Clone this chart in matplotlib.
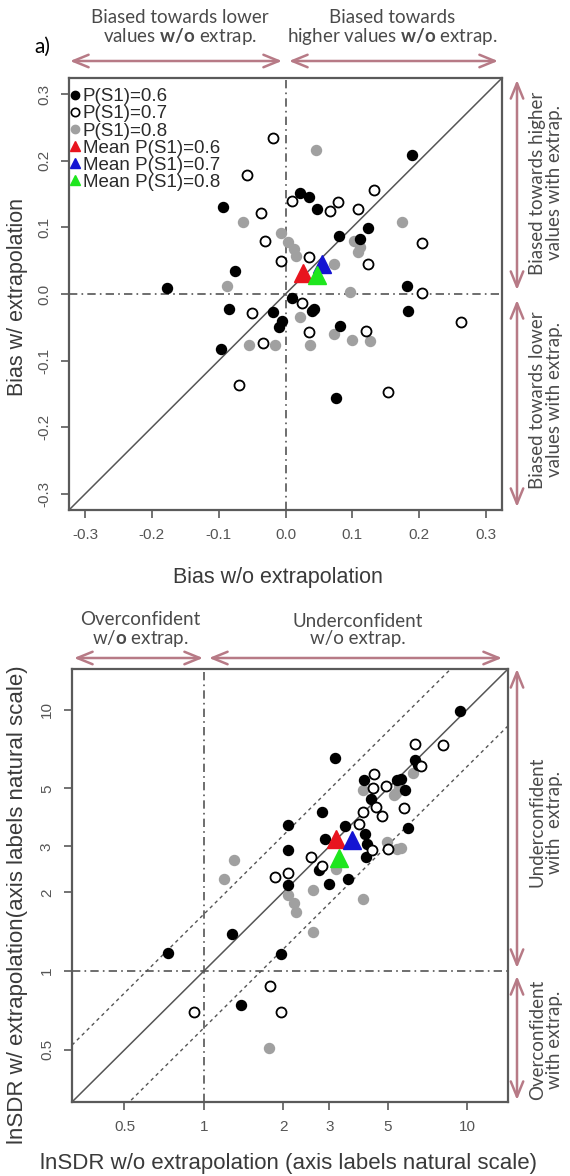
import matplotlib
matplotlib.use('Agg')
import matplotlib.pyplot as plt
from matplotlib.lines import Line2D
from matplotlib.patches import FancyArrowPatch
from matplotlib.ticker import FixedLocator, FixedFormatter, NullLocator

plt.rcParams['font.family'] = ['Liberation Sans', 'DejaVu Sans']
plt.rcParams['mathtext.fontset'] = 'custom'
plt.rcParams['mathtext.rm'] = 'Lato'
plt.rcParams['mathtext.bf'] = 'Lato:bold'

# ---------------- data: top panel (bias) ----------------
bias_wo_06 = [-0.178, -0.093, -0.075, -0.084, -0.096, -0.018, -0.005, -0.010, 0.010, 0.022, 0.035,
              0.047, 0.080, 0.123, 0.112, 0.190, 0.182, 0.184, 0.040, 0.043, 0.082, 0.076]
bias_w_06 = [0.009, 0.130, 0.034, -0.022, -0.082, -0.027, -0.040, -0.050, -0.006, 0.152, 0.145,
             0.128, 0.087, 0.099, 0.082, 0.208, 0.012, -0.026, -0.026, -0.022, -0.048, -0.156]
bias_wo_07 = [-0.018, -0.058, -0.036, -0.030, -0.007, 0.010, 0.067, 0.078, 0.108, 0.132, 0.035,
              0.123, 0.205, 0.204, 0.025, -0.050, -0.033, -0.070, 0.035, 0.121, 0.262, 0.153]
bias_w_07 = [0.234, 0.178, 0.121, 0.079, 0.050, 0.140, 0.124, 0.138, 0.128, 0.156, 0.055,
             0.045, 0.077, 0.002, -0.013, -0.029, -0.073, -0.136, -0.057, -0.055, -0.042, -0.147]
bias_wo_08 = [-0.064, -0.087, -0.006, 0.003, 0.012, 0.015, 0.045, 0.174, 0.102, 0.112, 0.108,
              0.072, 0.096, 0.021, -0.054, -0.015, 0.036, 0.072, 0.100, 0.126]
bias_w_08 = [0.108, 0.012, 0.091, 0.078, 0.067, 0.057, 0.216, 0.108, 0.080, 0.070, 0.063,
             0.045, 0.003, -0.035, -0.077, -0.076, -0.076, -0.060, -0.069, -0.070]
bias_mean_wo = [0.026, 0.055, 0.047]
bias_mean_w = [0.032, 0.045, 0.028]

# ---------------- data: bottom panel (lnSDR, natural scale) ----------------
sdr_wo_06 = [3.16, 4.07, 4.32, 5.42, 2.82, 2.08, 3.45, 4.10, 4.15, 2.89, 4.13, 2.08, 2.73,
             3.52, 2.98, 2.08, 1.28, 6.32, 6.50, 5.62, 5.83, 5.95, 1.96, 0.73, 1.38, 9.40]
sdr_w_06 = [6.52, 5.36, 4.55, 5.39, 4.05, 3.63, 3.58, 3.36, 3.07, 3.20, 2.73, 2.90, 2.43,
            2.26, 2.16, 2.13, 1.39, 6.40, 6.14, 5.42, 4.94, 3.53, 1.16, 1.17, 0.74, 9.90]
sdr_wo_07 = [4.44, 4.38, 4.90, 4.52, 4.75, 4.01, 3.87, 4.35, 5.00, 2.55, 2.81, 1.87, 2.08,
             6.35, 6.70, 5.74, 1.79, 0.92, 1.96, 8.10]
sdr_w_07 = [5.68, 5.01, 5.11, 4.26, 3.91, 4.05, 3.66, 2.90, 2.92, 2.73, 2.52, 2.29, 2.38,
            7.39, 6.09, 4.20, 0.88, 0.70, 0.70, 7.30]
sdr_wo_08 = [4.01, 5.30, 4.95, 5.40, 3.17, 1.30, 1.19, 2.59, 2.08, 2.20, 2.25, 4.04, 2.59,
             6.23, 5.50, 5.38, 5.62, 1.77]
sdr_w_08 = [4.91, 4.70, 3.11, 2.94, 2.46, 2.67, 2.26, 2.05, 1.95, 1.83, 1.68, 1.89, 1.41,
            5.72, 5.10, 4.80, 2.96, 0.51]
sdr_mean_wo = [3.19, 3.67, 3.27]
sdr_mean_w = [3.20, 3.18, 2.71]

legend_labels = ['P(S1)=0.6', 'P(S1)=0.7', 'P(S1)=0.8',
                 'Mean P(S1)=0.6', 'Mean P(S1)=0.7', 'Mean P(S1)=0.8']
bias_ticks = [-0.3, -0.2, -0.1, 0.0, 0.1, 0.2, 0.3]
bias_ticklabels = ['-0.3', '-0.2', '-0.1', '0.0', '0.1', '0.2', '0.3']
sdr_ticks = [0.5, 1, 2, 3, 5, 10]
sdr_ticklabels = ['0.5', '1', '2', '3', '5', '10']
mean_colors = ['#e8141e', '#1414d2', '#1ee61e']

W, H, DPI = 570, 1176, 100
fig = plt.figure(figsize=(W / DPI, H / DPI), dpi=DPI)
fig.patch.set_facecolor('white')

def rect(l, t, r, b):
    return [l / W, 1 - b / H, (r - l) / W, (b - t) / H]

def fx(x):
    return x / W

def fy(y):
    return 1 - y / H

SPINE = '#5a5a5a'
TXT = '#3a3a3a'
ARC = '#b77a86'
GRAY = '#a0a0a0'
MS = 7.2

def style_axes(ax):
    for s in ax.spines.values():
        s.set_color(SPINE)
        s.set_linewidth(1.6)
    ax.tick_params(direction='out', length=6, width=1.2, color=SPINE,
                   labelsize=11, labelcolor='#555555', pad=7)
    for lab in ax.get_yticklabels():
        lab.set_rotation(90)
        lab.set_va('center')

def scatter_sets(ax, xs06, ys06, xs07, ys07, xs08, ys08, mwo, mw):
    ax.plot(xs08, ys08, 'o', ms=MS, mfc=GRAY, mec=GRAY, zorder=4)
    ax.plot(xs06, ys06, 'o', ms=MS, mfc='black', mec='black', zorder=5)
    ax.plot(xs07, ys07, 'o', ms=MS, mfc='white', mec='black', mew=1.3, zorder=5)
    for i in range(3):
        ax.plot(mwo[i], mw[i], '^', ms=13, mfc=mean_colors[i], mec=mean_colors[i], zorder=6)

# ---------------- top panel ----------------
ax1 = fig.add_axes(rect(69, 78, 502, 510))
lim1 = (-0.324, 0.324)
ax1.set_xlim(lim1)
ax1.set_ylim(lim1)
ax1.plot(lim1, lim1, '-', color='#555555', lw=1.1, zorder=2)
ax1.axhline(0, color='#555555', lw=1.2, ls=(0, (5, 2.5, 1, 2.5)), zorder=2)
ax1.axvline(0, color='#555555', lw=1.2, ls=(0, (5, 2.5, 1, 2.5)), zorder=2)
scatter_sets(ax1, bias_wo_06, bias_w_06, bias_wo_07, bias_w_07, bias_wo_08, bias_w_08,
             bias_mean_wo, bias_mean_w)
ax1.xaxis.set_major_locator(FixedLocator(bias_ticks))
ax1.xaxis.set_major_formatter(FixedFormatter(bias_ticklabels))
ax1.yaxis.set_major_locator(FixedLocator(bias_ticks))
ax1.yaxis.set_major_formatter(FixedFormatter(bias_ticklabels))
style_axes(ax1)

handles = [
    Line2D([], [], ls='', marker='o', ms=6, mfc='black', mec='black'),
    Line2D([], [], ls='', marker='o', ms=6, mfc='white', mec='black', mew=1.2),
    Line2D([], [], ls='', marker='o', ms=6, mfc=GRAY, mec=GRAY),
    Line2D([], [], ls='', marker='^', ms=7, mfc=mean_colors[0], mec=mean_colors[0]),
    Line2D([], [], ls='', marker='^', ms=7, mfc=mean_colors[1], mec=mean_colors[1]),
    Line2D([], [], ls='', marker='^', ms=7, mfc=mean_colors[2], mec=mean_colors[2]),
]
leg = ax1.legend(handles, legend_labels, loc='upper left', bbox_to_anchor=(-0.005, 0.985),
                 frameon=False, fontsize=13.5, handlelength=0.5, handletextpad=0.15,
                 labelspacing=0.0, borderaxespad=0.0, borderpad=0.2)
for t in leg.get_texts():
    t.set_color('#2a2a2a')

# ---------------- bottom panel ----------------
ax2 = fig.add_axes(rect(72, 669, 508, 1102))
lim2 = (0.316, 14.3)
ax2.set_xscale('log')
ax2.set_yscale('log')
ax2.set_xlim(lim2)
ax2.set_ylim(lim2)
fac = 1.65
ax2.plot(lim2, lim2, '-', color='#555555', lw=1.1, zorder=2)
ax2.plot([lim2[0], lim2[1]], [lim2[0] * fac, lim2[1] * fac], color='#555555', lw=1.0,
         ls=(0, (2.5, 2.5)), zorder=2)
ax2.plot([lim2[0], lim2[1]], [lim2[0] / fac, lim2[1] / fac], color='#555555', lw=1.0,
         ls=(0, (2.5, 2.5)), zorder=2)
ax2.axhline(1, color='#555555', lw=1.2, ls=(0, (5, 2.5, 1, 2.5)), zorder=2)
ax2.axvline(1, color='#555555', lw=1.2, ls=(0, (5, 2.5, 1, 2.5)), zorder=2)
scatter_sets(ax2, sdr_wo_06, sdr_w_06, sdr_wo_07, sdr_w_07, sdr_wo_08, sdr_w_08,
             sdr_mean_wo, sdr_mean_w)
for axis in (ax2.xaxis, ax2.yaxis):
    axis.set_major_locator(FixedLocator(sdr_ticks))
    axis.set_major_formatter(FixedFormatter(sdr_ticklabels))
    axis.set_minor_locator(NullLocator())
style_axes(ax2)

# ---------------- axis labels ----------------
fig.text(fx(278), fy(577), 'Bias w/o extrapolation', fontsize=15.5, color=TXT,
         ha='center', va='center')
fig.text(fx(18), fy(297), 'Bias w/ extrapolation', fontsize=15.5, color=TXT,
         ha='center', va='center', rotation=90)
fig.text(fx(288), fy(1163), 'lnSDR w/o extrapolation (axis labels natural scale)',
         fontsize=16, color=TXT, ha='center', va='center')
fig.text(fx(18), fy(905), 'lnSDR w/ extrapolation(axis labels natural scale)',
         fontsize=16, color=TXT, ha='center', va='center', rotation=90)

# ---------------- annotations ----------------
ANN = dict(fontsize=13.5, color='#4a4a4a', ha='center', va='center', family='Lato',
           linespacing=1.0)
fig.text(fx(42), fy(47), 'a)', fontsize=15, color='black', ha='center', va='center',
         family='Lato')
fig.text(fx(180), fy(28), 'Biased towards lower\nvalues $\\mathbf{w/o}$ extrap.', **ANN)
fig.text(fx(392), fy(28), 'Biased towards\nhigher values $\\mathbf{w/o}$ extrap.', **ANN)
fig.text(fx(546), fy(183), 'Biased towards higher\nvalues with extrap.', rotation=90, **ANN)
fig.text(fx(546), fy(400), 'Biased towards lower\nvalues with extrap.', rotation=90, **ANN)
fig.text(fx(140), fy(630), 'Overconfident\nw/$\\mathbf{o}$ extrap.', **ANN)
fig.text(fx(358), fy(630), 'Underconfident\nw/o extrap.', **ANN)
fig.text(fx(546), fy(822), 'Underconfident\nwith  extrap.', rotation=90, **ANN)
fig.text(fx(546), fy(1040), 'Overconfident\nwith extrap.', rotation=90, **ANN)

def farrow(x1, y1, x2, y2):
    fig.add_artist(FancyArrowPatch((fx(x1), fy(y1)), (fx(x2), fy(y2)),
                                   transform=fig.transFigure,
                                   arrowstyle='<->,head_length=11,head_width=4.5',
                                   mutation_scale=1, color=ARC, lw=1.8,
                                   shrinkA=0, shrinkB=0))

farrow(70, 61, 282, 61)
farrow(289, 61, 498, 61)
farrow(517, 80, 517, 290)
farrow(517, 300, 517, 507)
farrow(74, 658, 203, 658)
farrow(209, 658, 502, 658)
farrow(517, 669, 517, 968)
farrow(517, 976, 517, 1100)

fig.savefig('out.png', dpi=DPI, facecolor='white')
